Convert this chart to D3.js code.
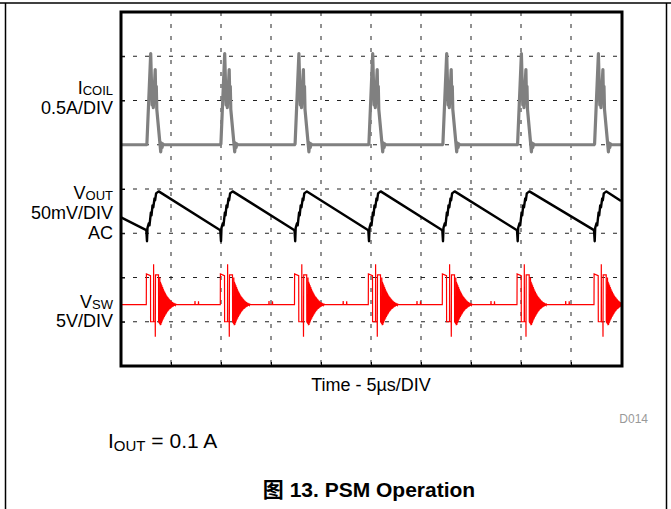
<!DOCTYPE html>
<html><head><meta charset="utf-8">
<script src="https://cdn.jsdelivr.net/npm/d3@7/dist/d3.min.js"></script>
<style>
body{margin:0;background:#fff}
svg text{font-family:"Liberation Sans",Arial,Helvetica,sans-serif}
</style>
</head><body>
<svg id="chart" width="671" height="509"></svg>
<script>
// ---------------- data ----------------
const timeDomain = [0, 50];            // µs, 10 div x 5 µs/DIV
const xDivTicks = [0,5,10,15,20,25,30,35,40,45,50];
const yDivTicks = [0,1,2,3,4,5,6,7,8];  // screen divisions from top

// start time of each switching burst (µs)
const pulseStarts = [2.53, 9.93, 17.35, 24.73, 32.13, 39.6, 47.3];

// I_COIL: 0.5 A/DIV, zero at division 3 ; [dt µs, A]
const coilBase = 0;
const coilPulse = [[0,0],[0.06,0.01],[0.44,1.03],[0.58,0.45],[0.64,0.6],[0.70,0.42],
  [0.89,0.85],[0.95,0.52],[1.0,0.66],[1.05,0.4],[1.36,0.02],[1.44,-0.08],[1.52,0.02],
  [1.58,-0.03],[1.65,0.01],[1.75,0]];

// V_OUT: 50 mV/DIV AC, zero at division 4.5 ; [dt µs, mV]
const voutFirst = -7, voutLast = 11.4;
const voutPulse = [[0,-21.5],[0.07,-34],[0.12,-19],[0.25,-13.7],[0.32,-16],[0.46,-1.4],
  [0.52,-4.7],[0.62,6.5],[0.70,4.3],[0.82,14.4],[0.88,12.2],[0.98,20],[1.24,22.3]];

// V_SW: 5 V/DIV, zero at division 7 ; [dt µs, V]
const swBase = 1.93;
const swEdges = [[0,1.93],[0.01,5.4],[0.42,5.2],[0.43,0],[0.72,0],[0.73,6.5],[0.75,0],
  [0.89,0],[0.90,-1.7],[0.92,5.3],[1.22,5.3],[1.23,0],[1.34,-0.2],[1.35,5.0],[1.39,-0.4]];
const swRingStart = 1.42, swRingStep = 0.035;
const swRinging = [2.6,-2.3,2.4,-2.1,2.2,-1.9,2.0,-1.7,1.8,-1.55,1.6,-1.4,1.45,-1.25,1.3,
  -1.1,1.15,-1.0,1.0,-0.85,0.9,-0.75,0.8,-0.65,0.7,-0.55,0.6,-0.5,0.5,-0.42,0.43,-0.35,
  0.36,-0.3,0.3,-0.24,0.25,-0.2,0.2,-0.15,0.15,-0.1,0.1,-0.05,0.05,0];
const swBlips = [[4.85,1.93],[4.87,2.35],[4.89,1.93],[5.2,1.93],[5.22,2.3],[5.24,1.93]];

// channel labels
const labels = [
  {main:"I", sub:"COIL", y:94},
  {main:"0.5A/DIV", y:114},
  {main:"V", sub:"OUT", y:199},
  {main:"50mV/DIV", y:219},
  {main:"AC", y:239},
  {main:"V", sub:"SW", y:308},
  {main:"5V/DIV", y:327}
];

// ---------------- drawing ----------------
const svg = d3.select("#chart");
const L = 121, R = 621, T = 12, B = 366;
const x = d3.scaleLinear().domain(timeDomain).range([L, R]);
const yDiv = d3.scaleLinear().domain([0, 8]).range([T, B]);
const yCoil = d3.scaleLinear().domain([0, -0.5]).range([yDiv(3), yDiv(4)]);
const yVout = d3.scaleLinear().domain([0, -50]).range([yDiv(4.5), yDiv(5.5)]);
const ySw = d3.scaleLinear().domain([0, -5]).range([yDiv(7), yDiv(8)]);

// page border
svg.append("line").attr("x1",0).attr("x2",671).attr("y1",3).attr("y2",3).attr("stroke","#000").attr("stroke-width",1.5);
svg.append("line").attr("x1",5.5).attr("x2",5.5).attr("y1",3).attr("y2",509).attr("stroke","#000").attr("stroke-width",1.5);
svg.append("line").attr("x1",666.5).attr("x2",666.5).attr("y1",3).attr("y2",509).attr("stroke","#000").attr("stroke-width",1.5);

// grid
const grid = svg.append("g");
grid.selectAll("line.v").data(xDivTicks.slice(1,-1)).enter().append("line")
  .attr("x1",d=>x(d)).attr("x2",d=>x(d)).attr("y1",T).attr("y2",B)
  .attr("stroke","#222").attr("stroke-width",1).attr("stroke-dasharray","4,8");
grid.selectAll("line.h").data(yDivTicks.slice(1,-1)).enter().append("line")
  .attr("x1",L).attr("x2",R).attr("y1",d=>yDiv(d)).attr("y2",d=>yDiv(d))
  .attr("stroke","#222").attr("stroke-width",1).attr("stroke-dasharray","4,8");

// axes ticks (inside frame)
svg.append("g").attr("transform",`translate(0,${B})`)
  .call(d3.axisTop(x).tickValues(xDivTicks).tickSize(4).tickFormat(""))
  .call(g=>g.select(".domain").remove());
svg.append("g").attr("transform",`translate(${L},0)`)
  .call(d3.axisRight(yDiv).tickValues(yDivTicks).tickSize(4).tickFormat(""))
  .call(g=>g.select(".domain").remove());

// build series
const coilData = [[timeDomain[0], coilBase]];
pulseStarts.forEach(s=>coilPulse.forEach(([dt,v])=>coilData.push([s+dt,v])));
coilData.push([timeDomain[1], coilBase]);

const voutData = [[timeDomain[0], voutFirst]];
pulseStarts.forEach(s=>voutPulse.forEach(([dt,v])=>voutData.push([s+dt,v])));
voutData.push([timeDomain[1], voutLast]);

const swData = [[timeDomain[0], swBase]];
pulseStarts.forEach(s=>{
  swEdges.forEach(([dt,v])=>swData.push([s+dt,v]));
  swRinging.forEach((v,i)=>swData.push([s+swRingStart+i*swRingStep, swBase+v]));
  swBlips.forEach(([dt,v])=>{ if(s+dt < timeDomain[1]) swData.push([s+dt,v]); });
});
swData.push([timeDomain[1], swBase]);
swData.sort((a,b)=>a[0]-b[0]);

const clip = svg.append("clipPath").attr("id","clip").append("rect")
  .attr("x",L).attr("y",T).attr("width",R-L).attr("height",B-T);
const plot = svg.append("g").attr("clip-path","url(#clip)");

plot.append("path").datum(swData)
  .attr("d", d3.line().x(d=>x(d[0])).y(d=>ySw(d[1])))
  .attr("fill","none").attr("stroke","#ff0000").attr("stroke-width",1.2);
plot.append("path").datum(voutData)
  .attr("d", d3.line().x(d=>x(d[0])).y(d=>yVout(d[1])))
  .attr("fill","none").attr("stroke","#000").attr("stroke-width",2.4).attr("stroke-linejoin","round");
plot.append("path").datum(coilData)
  .attr("d", d3.line().x(d=>x(d[0])).y(d=>yCoil(d[1])))
  .attr("fill","none").attr("stroke","#808080").attr("stroke-width",3.2).attr("stroke-linejoin","round");

// frame
svg.append("rect").attr("x",L).attr("y",T).attr("width",R-L+1).attr("height",B-T)
  .attr("fill","none").attr("stroke","#000").attr("stroke-width",3);

// channel labels
labels.forEach(l=>{
  const t = svg.append("text").attr("x",113).attr("y",l.y).attr("text-anchor","end")
    .attr("font-size",18).attr("fill","#000");
  t.append("tspan").text(l.main);
  if(l.sub) t.append("tspan").attr("font-size",13).attr("dy",1).text(l.sub);
});

// axis title
svg.append("text").attr("x",371).attr("y",391).attr("text-anchor","middle")
  .attr("font-size",18).text("Time - 5µs/DIV");
svg.append("text").attr("x",648).attr("y",423).attr("text-anchor","end")
  .attr("font-size",12).attr("fill","#999").text("D014");
const io = svg.append("text").attr("x",108).attr("y",448).attr("font-size",21);
io.append("tspan").text("I");
io.append("tspan").attr("font-size",15).attr("dy",3).text("OUT");
io.append("tspan").attr("dy",-3).text(" = 0.1 A");

const cap = svg.append("text").attr("x",369).attr("y",497).attr("text-anchor","middle")
  .attr("font-size",21).attr("font-weight","bold");
cap.append("tspan").attr("style","font-family:'Noto Sans CJK SC',sans-serif").text("图");
cap.append("tspan").text(" 13. PSM Operation");
</script>
</body></html>
